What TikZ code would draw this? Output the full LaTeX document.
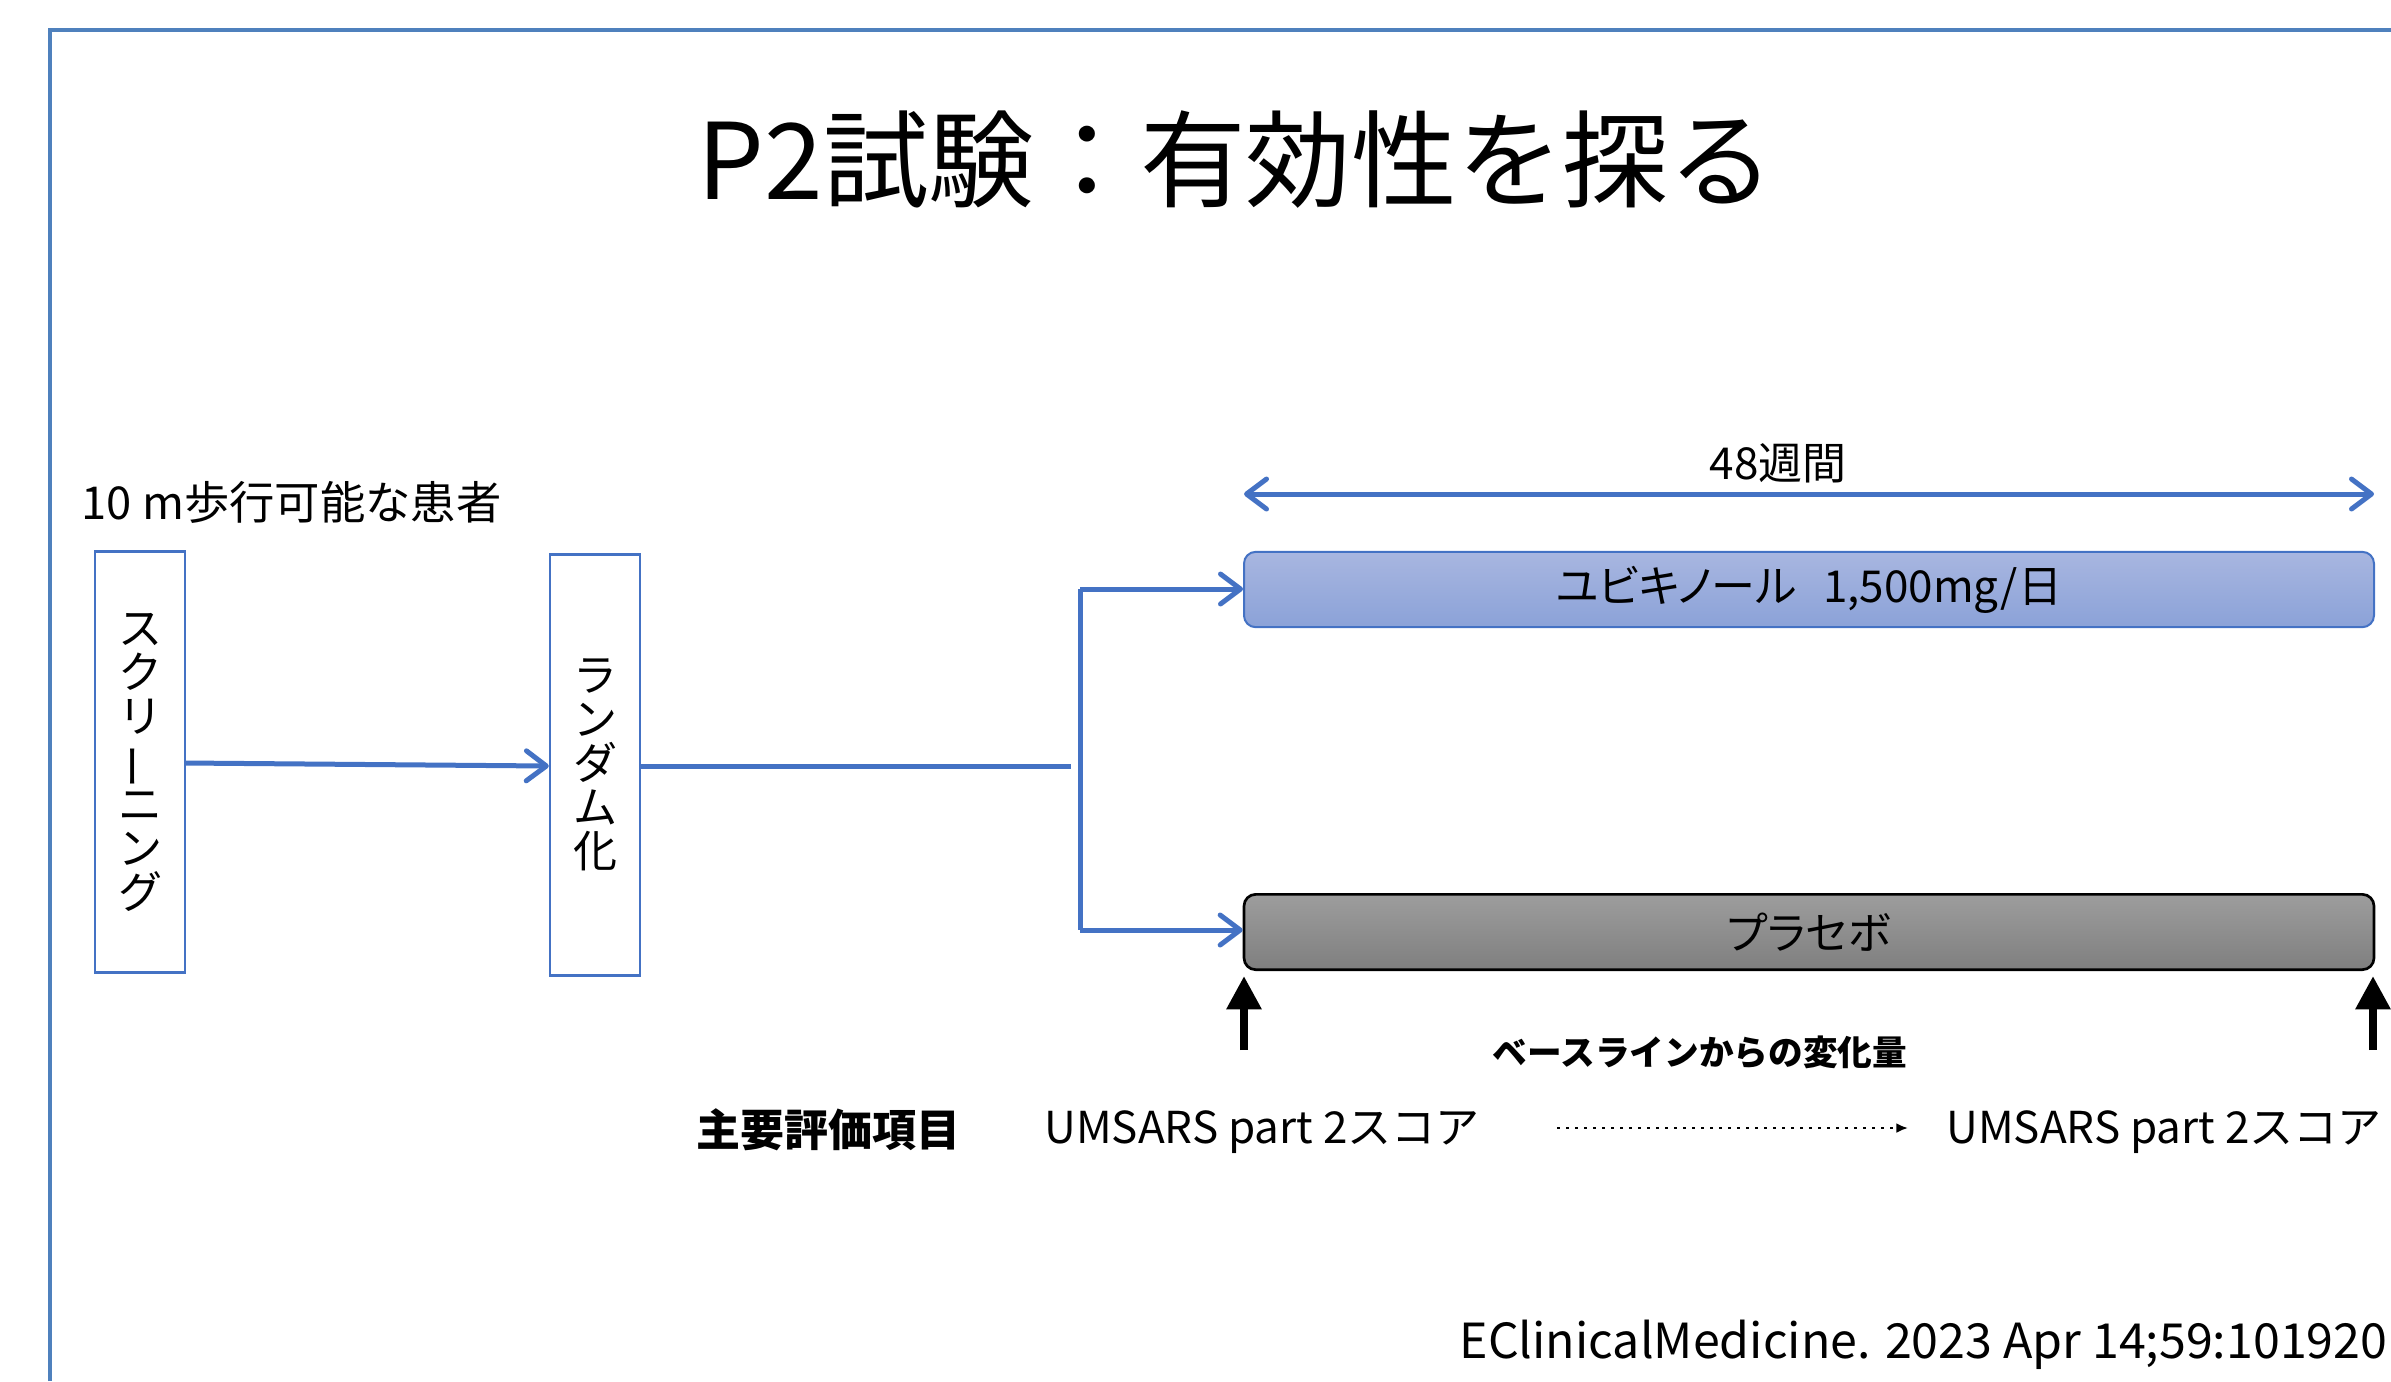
\documentclass[tikz,border=0pt]{standalone}
\usepackage{fontspec}
\usepackage{graphicx}
\setmainfont{Noto Sans CJK JP}
\newfontfamily\paltfont[RawFeature=+palt]{Noto Sans CJK JP}
\usetikzlibrary{arrows.meta}
\definecolor{frameblue}{RGB}{79,129,189}
\definecolor{arrblue}{RGB}{68,114,196}
\definecolor{ubitop}{RGB}{168,182,224}
\definecolor{ubibot}{RGB}{139,162,216}
\definecolor{plctop}{RGB}{157,157,157}
\definecolor{plcbot}{RGB}{127,127,127}
\newcommand\fsz[1]{\fontsize{#1}{#1}\selectfont}
\begin{document}
\begin{tikzpicture}[x=0.3pt,y=-0.3pt,
  frame/.style={draw=frameblue,line width=1.4pt},
  vbox/.style={draw=arrblue,line width=0.7pt,minimum width=27pt,minimum height=126.3pt,inner sep=0pt,align=center,font=\fsz{13.2pt}},
  bar/.style={rounded corners=3.5pt,minimum width=339pt,minimum height=22.6pt,inner sep=0pt,font=\paltfont\fsz{13.2pt}},
  flow/.style={draw=arrblue,line width=1.5pt,-{Straight Barb[length=6pt,width=9pt,round]}},
  flowline/.style={draw=arrblue,line width=1.5pt},
  uparrow/.style={draw=black,line width=2.4pt,-{Triangle[length=10pt,width=10pt]}},
  lbl/.style={inner sep=0pt,font=\fsz{13.2pt}},
]
\useasboundingbox (0,0) rectangle (2391,1381);
% frame
\draw[frame] (50,1381) -- (50,30) -- (2391,30);
% title
\node[inner sep=0pt,font=\fsz{31.7pt}] (title) at (1236,160) {P2試験：有効性を探る};
% patient label
\node[lbl,anchor=west,font=\fsz{13.6pt}] (pat) at (81,502) {10 m歩行可能な患者};
% boxes
\node[vbox] (scr) at (140,762) {ス\\ク\\リ\\\rotatebox[origin=c]{90}{ー}\\ニ\\ン\\グ};
\node[vbox] (rnd) at (595,765) {ラ\\ン\\ダ\\ム\\化};
% bars
\node[bar,draw=arrblue,line width=0.6pt,top color=ubitop,bottom color=ubibot] (ubi) at (1809,589.5) {ユビキノール\hspace{8pt}1,500mg/日};
\node[bar,draw=black,line width=0.8pt,top color=plctop,bottom color=plcbot] (plc) at (1809,932) {プラセボ};
% flow
\draw[flow] (scr.east |- 0,763) -- (rnd.west |- 0,766);
\coordinate (stub) at (1071,766);
\coordinate (splitT) at (1080,589);
\coordinate (splitB) at (1080,930);
\draw[flowline] (rnd.east |- stub) -- (stub);
\draw[flowline] (splitT) -- (splitB);
\draw[flow] (splitT) -- (ubi.west |- splitT);
\draw[flow] (splitB) -- (plc.west |- splitB);
% 48 weeks
\coordinate (wkL) at (1244,494);
\coordinate (wkR) at (2374,494);
\draw[draw=arrblue,line width=1.5pt,{Straight Barb[length=6pt,width=9pt,round]}-{Straight Barb[length=6pt,width=9pt,round]}] (wkL) -- (wkR);
\node[lbl] (wk) at (1778,463) {48週間};
% up arrows
\coordinate (upL) at (1244,1050);
\coordinate (upR) at (2373,1050);
\draw[uparrow] (upL) -- (upL |- 0,976);
\draw[uparrow] (upR) -- (upR |- 0,976);
\node[lbl,font=\fsz{10.4pt}\bfseries] (chg) at (1700,1052) {ベースラインからの変化量};
% endpoints
\node[lbl,font=\fsz{13.2pt}\bfseries] (ep) at (828,1130) {主要評価項目};
\node[lbl] (um1) at (1262,1132) {UMSARS part 2スコア};
\node[lbl] (um2) at (2164,1132) {UMSARS part 2スコア};
\draw[black,line width=0.7pt,dotted,-{Latex[length=3.5pt,width=3pt]}] (um1.east |- 0,1128) ++(77,0) coordinate (dotL) -- (1908,1128) coordinate (dotR);
% citation
\node[lbl,anchor=east,font=\fsz{14.5pt}] (cite) at (2388,1345) {EClinicalMedicine. 2023 Apr 14;59:101920};
\end{tikzpicture}
\end{document}
